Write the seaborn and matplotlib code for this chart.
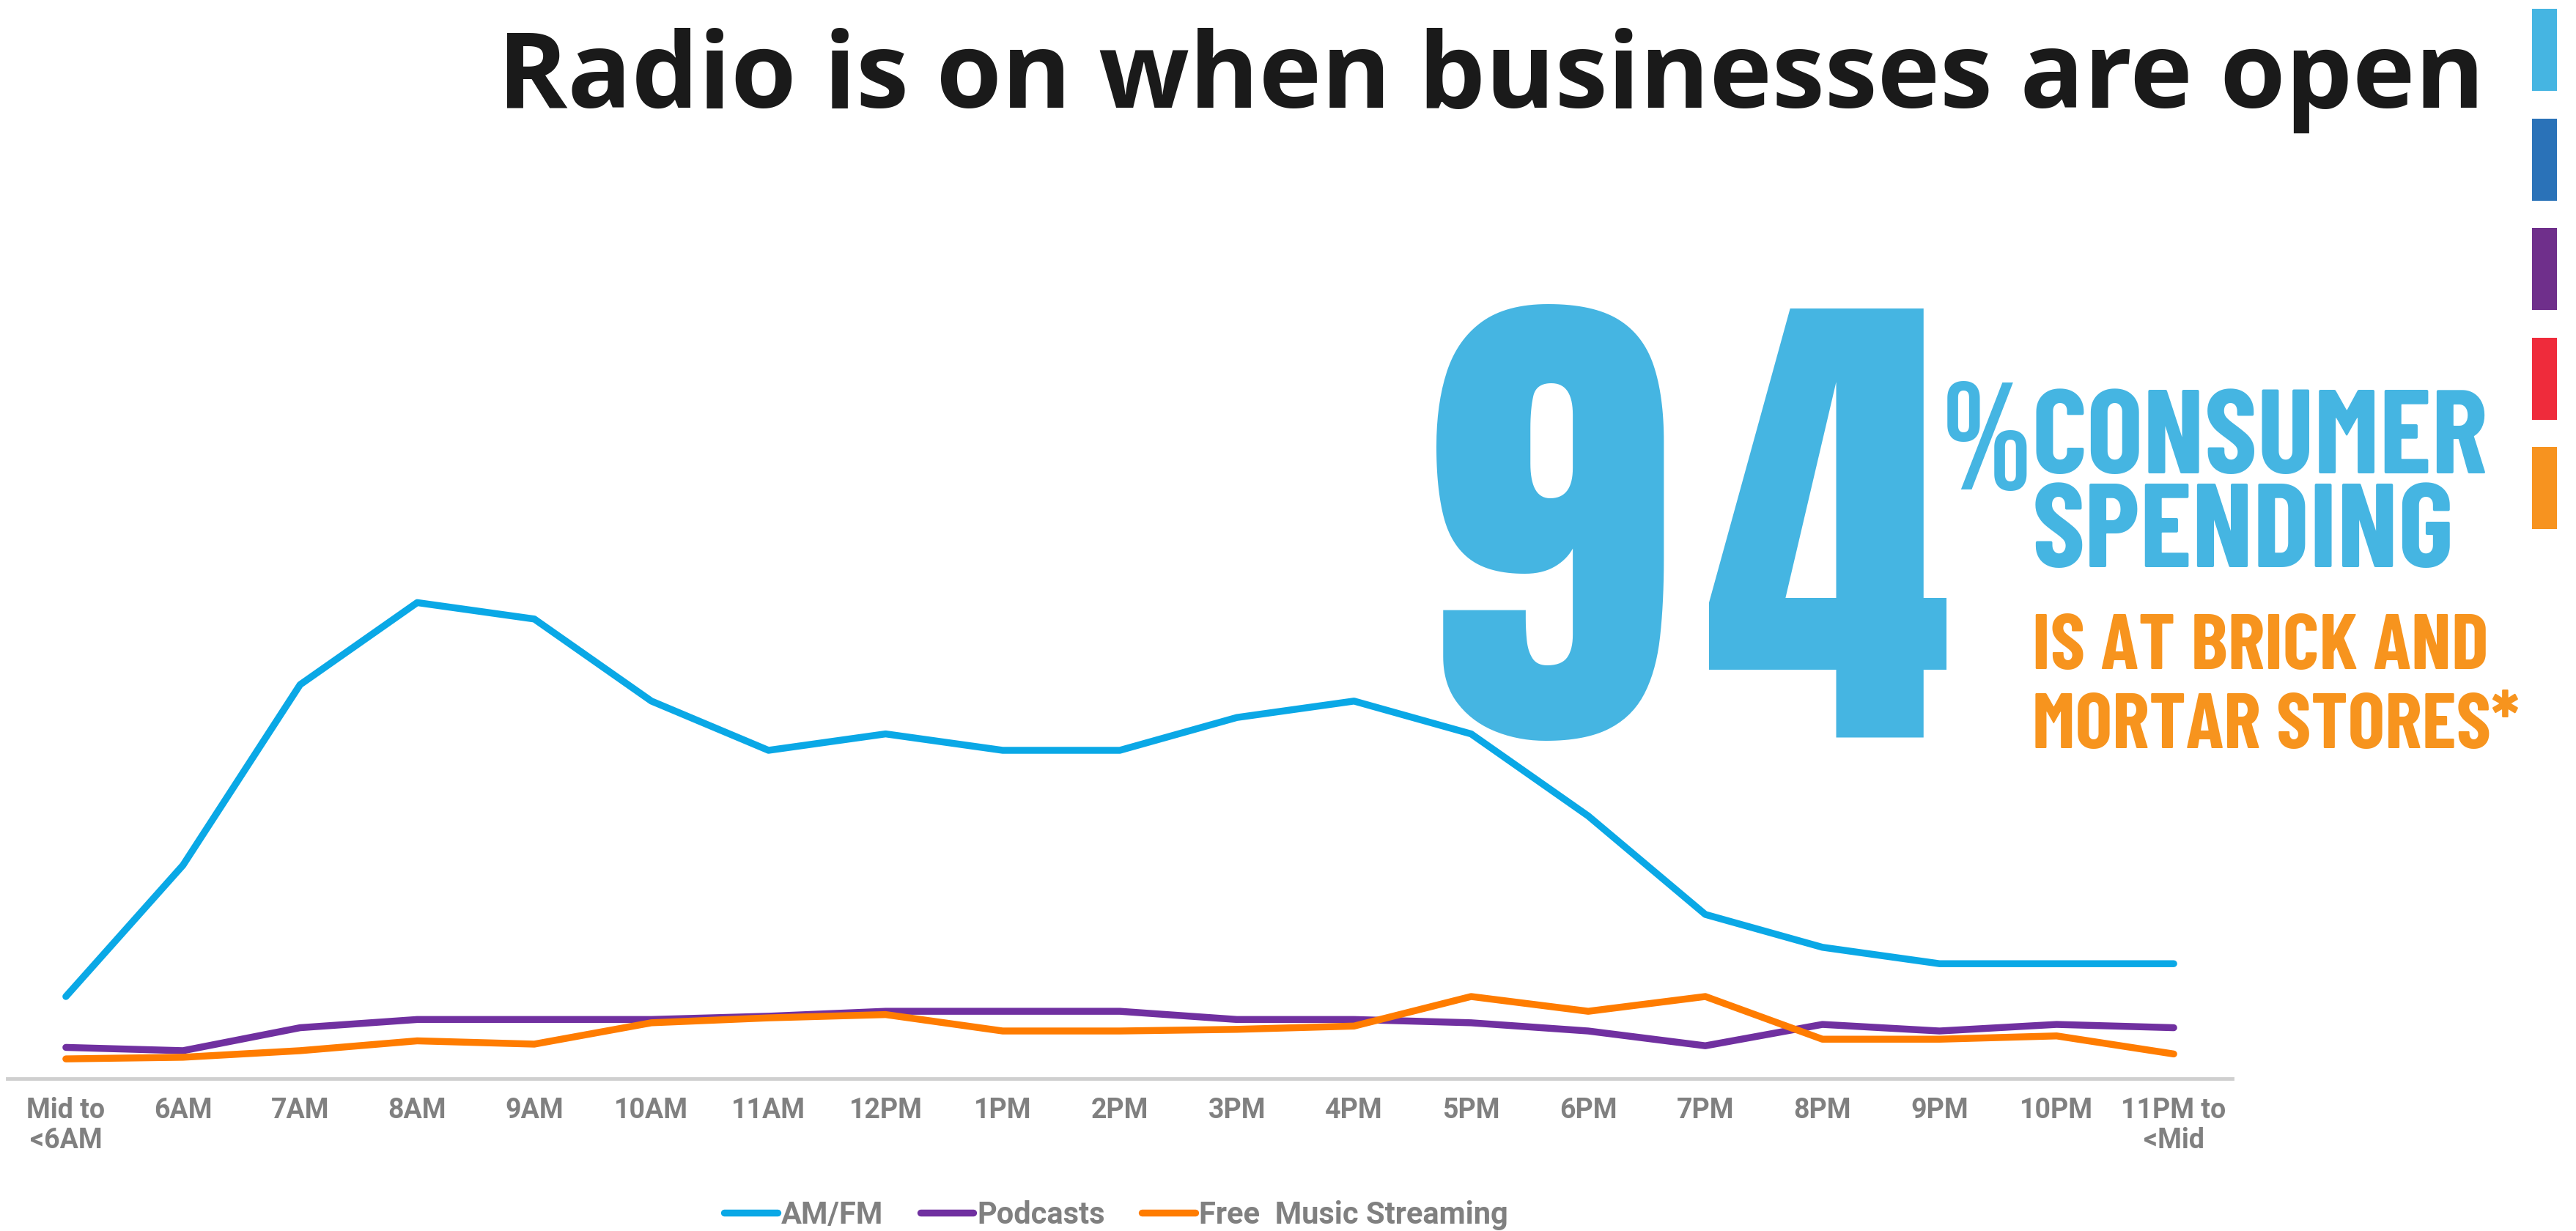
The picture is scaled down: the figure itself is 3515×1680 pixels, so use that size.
import matplotlib
matplotlib.use("Agg")
import matplotlib.pyplot as plt
from matplotlib.patches import Rectangle
import pandas as pd
import seaborn as sns

# ---- data -------------------------------------------------------------
hours = ['Mid to\n<6AM', '6AM', '7AM', '8AM', '9AM', '10AM', '11AM', '12PM',
         '1PM', '2PM', '3PM', '4PM', '5PM', '6PM', '7PM', '8PM', '9PM',
         '10PM', '11PM to\n<Mid']
am_fm = [5, 13, 24, 29, 28, 23, 20, 21, 20, 20, 22, 23, 21, 16, 10, 8, 7, 7, 7]
podcasts = [1.9, 1.7, 3.1, 3.6, 3.6, 3.6, 3.8, 4.1, 4.1, 4.1, 3.6, 3.6, 3.4,
             2.9, 2.0, 3.3, 2.9, 3.3, 3.1]
streaming = [1.2, 1.3, 1.7, 2.3, 2.1, 3.4, 3.7, 3.9, 2.9, 2.9, 3.0, 3.2, 5.0,
             4.1, 5.0, 2.4, 2.4, 2.6, 1.5]
series_names = ['AM/FM', 'Podcasts', 'Free  Music Streaming']
series_colors = ['#0AA8E6', '#7030A0', '#FF7C00']
side_colors = ['#45B5E2', '#2A72B8', '#6F2F8B', '#EF2B3B', '#F7931F']

df = pd.DataFrame({
    'slot': list(range(len(hours))) * 3,
    'share': am_fm + podcasts + streaming,
    'platform': [n for n in series_names for _ in hours],
})

# ---- style ------------------------------------------------------------
sns.set_style('white')
label_font = ['Roboto', 'DejaVu Sans']
display_font = ['Anton', 'DejaVu Sans']
callout_font = ['Barlow Condensed', 'DejaVu Sans']
percent_font = ['Bebas Neue', 'DejaVu Sans']
plt.rcParams['font.family'] = label_font

W, H = 3515, 1681
fig = plt.figure(figsize=(W / 100, H / 100), dpi=100)
fig.patch.set_facecolor('white')


def fx(px):
    return px / W


def fy(py):
    return 1 - py / H


# chart area: baseline at y=1473 px, 22.4 px per unit
unit = 22.4
ymax = 40
ax = fig.add_axes([fx(10), fy(1473), (3046 - 10) / W, ymax * unit / H])
ax.set_facecolor('none')

sns.lineplot(data=df, x='slot', y='share', hue='platform',
             hue_order=series_names, palette=series_colors,
             linewidth=6.8, solid_capstyle='round', ax=ax, legend=True)

ax.set_xlim(-0.5, len(hours) - 0.5)
ax.set_ylim(0, ymax)
ax.set_xticks(range(len(hours)))
ax.set_xticklabels(hours, fontsize=27, fontweight='bold', color='#808080',
                   linespacing=1.15)
ax.tick_params(axis='x', length=0, pad=17)
ax.set_yticks([])
ax.set_xlabel('')
ax.set_ylabel('')
for side in ['left', 'right', 'top']:
    ax.spines[side].set_visible(False)
ax.spines['bottom'].set_color('#cfcfcf')
ax.spines['bottom'].set_linewidth(3.5)

handles, labels = ax.get_legend_handles_labels()
ax.get_legend().remove()
fig.legend(handles, labels, loc='center', bbox_to_anchor=(fx(1523), fy(1659)),
           ncol=3, frameon=False, handlelength=1.75, handletextpad=0.12,
           columnspacing=1.2, labelcolor='#808080',
           prop={'family': label_font, 'weight': 'bold', 'size': 30})

# ---- headline ---------------------------------------------------------
fig.text(fx(3390), fy(147), 'Radio is on when businesses are open',
         ha='right', va='baseline', fontsize=104, fontweight='bold',
         family=['Open Sans', 'DejaVu Sans'], color='#1a1a1a')

# ---- call-out ---------------------------------------------------------
blue = '#45B5E2'
orange = '#F7941E'
# the two digits are set individually so they fill the same width
fig.text(fx(1942), fy(1006), '9', ha='left', va='baseline', fontsize=490,
         family=display_font, color=blue)
fig.text(fx(2326), fy(1006), '4', ha='left', va='baseline', fontsize=490,
         family=display_font, color=blue)
fig.text(fx(2650), fy(668), '%', ha='left', va='baseline', fontsize=150,
         family=percent_font, color=blue)
fig.text(fx(2773), fy(646), 'CONSUMER', ha='left', va='baseline',
         fontsize=117, fontweight='bold', family=callout_font, color=blue)
fig.text(fx(2773), fy(774), 'SPENDING', ha='left', va='baseline',
         fontsize=117, fontweight='bold', family=callout_font, color=blue)
fig.text(fx(2773), fy(913), 'IS AT BRICK AND', ha='left', va='baseline',
         fontsize=77, fontweight='bold', family=callout_font, color=orange)
fig.text(fx(2773), fy(1021), 'MORTAR STORES*', ha='left', va='baseline',
         fontsize=77, fontweight='bold', family=callout_font, color=orange)

# ---- colour strip on the right edge ----------------------------------
for i, c in enumerate(side_colors):
    top = 13 + i * 149.5
    fig.add_artist(Rectangle((fx(3455), fy(top + 112)), 34 / W, 112 / H,
                             transform=fig.transFigure, color=c, lw=0))

fig.savefig('out.png', dpi=100, facecolor='white')
